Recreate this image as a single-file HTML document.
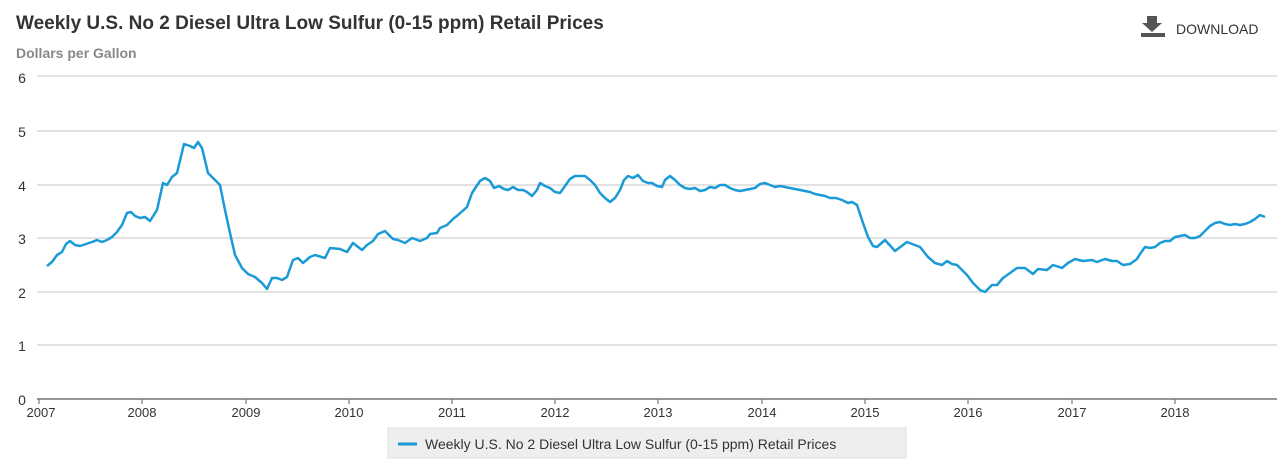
<!DOCTYPE html>
<html><head><meta charset="utf-8"><style>
body{margin:0;background:#fff;width:1280px;height:471px;overflow:hidden;font-family:"Liberation Sans",Arial,sans-serif}
</style></head><body>
<svg width="1280" height="471" xmlns="http://www.w3.org/2000/svg" font-family="Liberation Sans, Arial, sans-serif">
<text x="16" y="29" font-size="19" font-weight="bold" fill="#333">Weekly U.S. No 2 Diesel Ultra Low Sulfur (0-15 ppm) Retail Prices</text>
<text x="16" y="58" font-size="14" font-weight="bold" fill="#888">Dollars per Gallon</text>
<g fill="#555"><rect x="1147" y="16" width="10" height="8"/><polygon points="1142,23 1162,23 1152,32"/><rect x="1141" y="33" width="24" height="4"/></g>
<text x="1176" y="34" font-size="14" fill="#333">DOWNLOAD</text>
<g stroke="#d0d0d0" stroke-width="1.2">
<line x1="37" x2="1277" y1="76" y2="76"/><line x1="37" x2="1277" y1="131" y2="131"/><line x1="37" x2="1277" y1="185" y2="185"/><line x1="37" x2="1277" y1="238" y2="238"/><line x1="37" x2="1277" y1="292" y2="292"/><line x1="37" x2="1277" y1="345" y2="345"/>
</g>
<line x1="37" x2="1277" y1="399" y2="399" stroke="#777" stroke-width="1.5"/>
<g font-size="14" fill="#333" text-anchor="middle">
<text x="22" y="83">6</text><text x="22" y="137">5</text><text x="22" y="191">4</text><text x="22" y="244">3</text><text x="22" y="298">2</text><text x="22" y="351">1</text><text x="22" y="405">0</text>
</g>
<g stroke="#777" stroke-width="1.2">
<line x1="39" x2="39" y1="399" y2="404"/><line x1="142" x2="142" y1="399" y2="404"/><line x1="246" x2="246" y1="399" y2="404"/><line x1="349" x2="349" y1="399" y2="404"/><line x1="452" x2="452" y1="399" y2="404"/><line x1="555" x2="555" y1="399" y2="404"/><line x1="658" x2="658" y1="399" y2="404"/><line x1="762" x2="762" y1="399" y2="404"/><line x1="865" x2="865" y1="399" y2="404"/><line x1="968" x2="968" y1="399" y2="404"/><line x1="1072" x2="1072" y1="399" y2="404"/><line x1="1175" x2="1175" y1="399" y2="404"/>
</g>
<g font-size="13" fill="#333" text-anchor="middle">
<text x="41" y="417">2007</text><text x="142" y="417">2008</text><text x="246" y="417">2009</text><text x="349" y="417">2010</text><text x="452" y="417">2011</text><text x="555" y="417">2012</text><text x="658" y="417">2013</text><text x="762" y="417">2014</text><text x="865" y="417">2015</text><text x="968" y="417">2016</text><text x="1072" y="417">2017</text><text x="1175" y="417">2018</text>
</g>
<polyline fill="none" stroke="#1a9ad6" stroke-width="2.5" stroke-linejoin="round" points="47,266 52,262 57,255 62,252 66,244 70,241 75,245 80,246 86,244 92,242 97,240 102,242 107,240 112,237 117,232 122,225 127,213 131,212 135,216 140,218 145,217 150,221 157,210 163,183 167,185 172,177 177,173 184,144 190,146 194,148 198,142 202,148 208,173 213,178 220,185 225,210 230,233 235,255 242,268 248,274 255,277 262,283 267,289 272,278 277,278 282,280 287,277 293,260 298,258 303,263 310,257 315,255 325,258 330,248 340,249 347,252 353,243 362,250 367,245 373,241 378,234 385,231 393,239 398,240 405,243 412,238 420,241 427,238 430,234 437,233 440,228 447,225 453,219 458,215 467,207 472,193 476,187 480,181 485,178 490,181 494,188 499,186 504,189 508,190 513,187 518,190 523,190 527,192 532,196 537,190 540,183 545,186 550,188 555,192 560,193 565,186 570,179 575,176 580,176 585,176 590,180 595,185 600,193 605,198 610,202 615,198 620,190 624,180 628,176 633,178 638,175 643,181 648,183 652,183 657,186 662,187 665,180 670,176 675,180 680,185 685,188 690,189 695,188 700,191 705,190 710,187 715,188 720,185 725,185 730,188 735,190 740,191 745,190 750,189 755,188 760,184 765,183 770,185 775,187 780,186 785,187 790,188 795,189 800,190 805,191 810,192 815,194 820,195 825,196 830,198 836,198 842,200 848,203 852,202 857,205 863,223 868,237 873,246 877,247 885,240 895,251 907,242 920,247 928,257 935,263 942,265 947,261 952,264 957,265 967,275 973,283 980,290 985,292 992,285 997,285 1003,278 1010,273 1017,268 1025,268 1033,274 1038,269 1047,270 1053,265 1062,268 1068,263 1075,259 1083,261 1092,260 1097,262 1105,259 1112,261 1117,261 1123,265 1130,264 1137,259 1140,254 1145,247 1150,248 1155,247 1160,243 1165,241 1170,241 1175,237 1180,236 1185,235 1190,238 1195,238 1200,236 1205,231 1210,226 1215,223 1220,222 1225,224 1230,225 1235,224 1240,225 1245,224 1250,222 1255,219 1260,215 1265,217"/>
<rect x="388" y="428" width="518" height="30" fill="#eeeeee" stroke="#dddddd"/>
<line x1="398" x2="417" y1="444" y2="444" stroke="#1a9ad6" stroke-width="3"/>
<text x="425" y="449" font-size="14" fill="#333">Weekly U.S. No 2 Diesel Ultra Low Sulfur (0-15 ppm) Retail Prices</text>
</svg>
</body></html>
